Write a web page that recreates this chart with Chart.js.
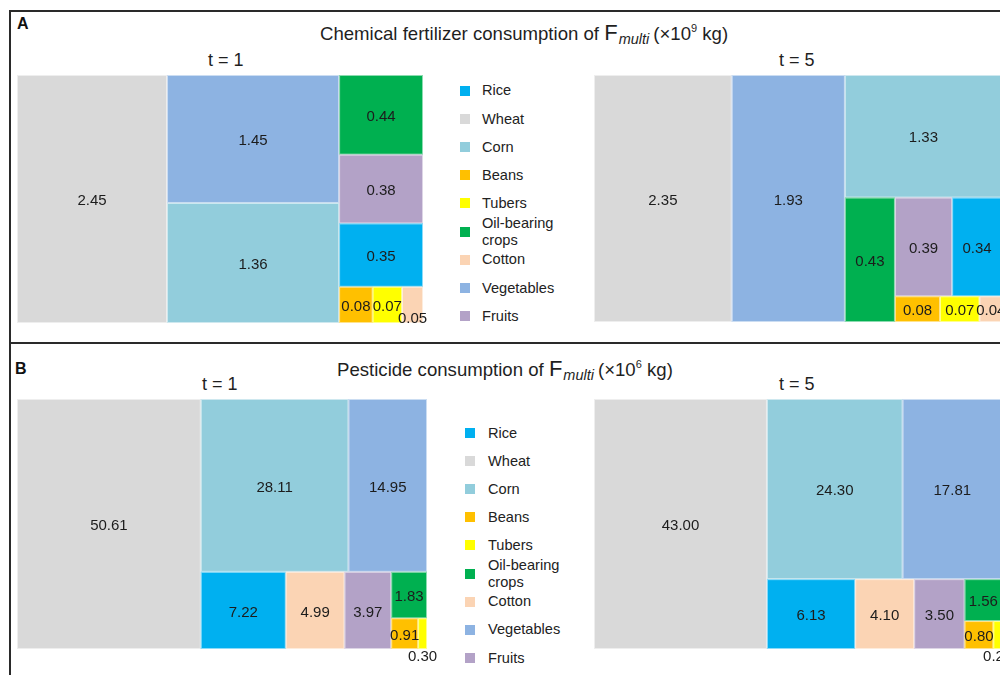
<!DOCTYPE html>
<html>
<head>
<meta charset="utf-8">
<script src="https://cdn.jsdelivr.net/npm/chart.js@4.4.1/dist/chart.umd.min.js"></script>
<style>
  html, body { margin: 0; padding: 0; background: #fff; }
  body { position: relative; width: 1000px; height: 675px; overflow: hidden;
         font-family: "Liberation Sans", Arial, sans-serif; color: #1f1f1f; }
  .abs { position: absolute; white-space: nowrap; }
  .frame-v { position: absolute; left: 9px; top: 10px; width: 2px; height: 700px; background: #2a2a2a; }
  .frame-h { position: absolute; left: 9px; width: 1000px; height: 2px; background: #2a2a2a; }
  .panel-tag { font-size: 16px; font-weight: bold; line-height: 18px; color: #111; }
  .title { font-size: 18.6px; line-height: 20px; }
  .title .bigF { font-size: 22px; }
  .title .sub { font-size: 14.5px; font-style: italic; position: relative; top: 4px; margin-left: 1px; margin-right: 4px; }
  .title .sup { font-size: 11px; position: relative; top: -8px; }
  .tlabel { font-size: 18px; line-height: 20px; }
  canvas.tm { position: absolute; }
  .legend-row { position: absolute; height: 24px; display: flex; align-items: center; }
  .legend-row .sw { width: 10px; height: 10px; flex: none; }
  .legend-row .tx { font-size: 14.6px; line-height: 16.5px; width: 84px; white-space: normal; color: #222; }
</style>
</head>
<body>

<div class="frame-v"></div>
<div class="frame-h" style="top:10px"></div>
<div class="frame-h" style="top:342px"></div>

<div class="abs panel-tag" style="left:17px; top:15px">A</div>
<div class="abs title" style="left:320px; top:23px">Chemical fertilizer consumption of <span class="bigF">F</span><span class="sub">multi</span>(×10<span class="sup">9</span> kg)</div>
<div class="abs tlabel" style="left:208px; top:50px">t = 1</div>
<div class="abs tlabel" style="left:779px; top:50px">t = 5</div>

<div class="abs panel-tag" style="left:15px; top:360px">B</div>
<div class="abs title" style="left:337px; top:359px">Pesticide consumption of <span class="bigF">F</span><span class="sub">multi</span>(×10<span class="sup">6</span> kg)</div>
<div class="abs tlabel" style="left:202px; top:374px">t = 1</div>
<div class="abs tlabel" style="left:779px; top:374px">t = 5</div>

<canvas id="fertT1" class="tm"></canvas>
<canvas id="fertT5" class="tm"></canvas>
<canvas id="pestT1" class="tm"></canvas>
<canvas id="pestT5" class="tm"></canvas>

<div id="legendA"></div>
<div id="legendB"></div>

<script>
// Crop categories, in legend order
const crops = ['Rice', 'Wheat', 'Corn', 'Beans', 'Tubers', 'Oil-bearing crops', 'Cotton', 'Vegetables', 'Fruits'];
const cropColors = ['#00b0f0', '#d9d9d9', '#92cddc', '#ffc000', '#ffff00', '#00b050', '#fbd4b4', '#8db3e2', '#b3a2c7'];

// Chemical fertilizer consumption of F_multi (×10^9 kg), per crop
const fertilizerT1 = [0.35, 2.45, 1.36, 0.08, 0.07, 0.44, 0.05, 1.45, 0.38];
const fertilizerT5 = [0.34, 2.35, 1.33, 0.08, 0.07, 0.43, 0.04, 1.93, 0.39];

// Pesticide consumption of F_multi (×10^6 kg), per crop
const pesticideT1 = [7.22, 50.61, 28.11, 0.91, 0.30, 1.83, 4.99, 14.95, 3.97];
const pesticideT5 = [6.13, 43.00, 24.30, 0.80, 0.24, 1.56, 4.10, 17.81, 3.50];

// Preferred width/height ratio of a cell when building strips
const targetAspect = 0.76;

// Squarified strip layout: biggest values first, each strip runs along the
// shorter side of the space that is left; a value joins the current strip as
// long as the worst cell shape in it does not get worse.
function squarifyLayout(values, width, height) {
  const order = values.map((v, i) => i).sort((a, b) => values[b] - values[a]);
  const total = values.reduce((s, v) => s + v, 0);
  const unit = width * height / total;
  const rects = new Array(values.length);
  let x = 0, y = 0, w = width, h = height, k = 0;

  const stripSum = row => row.reduce((s, i) => s + values[i], 0);
  const score = (row, vertical, side) => {
    const thick = stripSum(row) * unit / side;
    let worst = 0;
    for (const i of row) {
      const len = values[i] * unit / thick;
      const ratio = vertical ? thick / len : len / thick;
      worst = Math.max(worst, Math.abs(Math.log(ratio / targetAspect)));
    }
    return worst;
  };

  while (k < order.length) {
    const vertical = w >= h;
    const side = vertical ? h : w;
    const row = [order[k++]];
    let best = score(row, vertical, side);
    while (k < order.length) {
      const next = score(row.concat(order[k]), vertical, side);
      if (next > best) break;
      row.push(order[k++]);
      best = next;
    }
    const thick = stripSum(row) * unit / side;
    let offset = 0;
    for (const i of row) {
      const len = values[i] * unit / thick;
      rects[i] = vertical
        ? { x0: x, x1: x + thick, y0: y + offset, y1: y + offset + len }
        : { x0: x + offset, x1: x + offset + len, y0: y, y1: y + thick };
      offset += len;
    }
    if (vertical) { x += thick; w -= thick; } else { y += thick; h -= thick; }
  }
  // express the cells in the 0..1 units of the chart's x and y scales
  return {
    order,
    cells: rects.map(r => ({ x0: r.x0 / width, x1: r.x1 / width, y0: r.y0 / height, y1: r.y1 / height }))
  };
}

const LABEL_FONT = '15px "Liberation Sans", Arial, sans-serif';
const LABEL_H = 12;

const treemapPlugin = {
  id: 'treemapCells',
  afterDatasetsDraw(chart, args, opts) {
    const { ctx, chartArea, scales } = chart;
    const values = opts.values;
    const { order, cells } = squarifyLayout(values, chartArea.width, chartArea.height);
    const px = c => ({
      left: scales.x.getPixelForValue(c.x0), right: scales.x.getPixelForValue(c.x1),
      top: scales.y.getPixelForValue(c.y0), bottom: scales.y.getPixelForValue(c.y1)
    });

    ctx.save();
    for (const i of order) {
      const b = px(cells[i]);
      ctx.fillStyle = opts.colors[i];
      ctx.fillRect(b.left, b.top, b.right - b.left, b.bottom - b.top);
      ctx.strokeStyle = 'rgba(255,255,255,0.55)';
      ctx.lineWidth = 1;
      ctx.strokeRect(b.left + 0.5, b.top + 0.5, b.right - b.left - 1, b.bottom - b.top - 1);
    }

    // value labels, centred; a label that would collide with an earlier one moves down
    ctx.font = LABEL_FONT;
    ctx.fillStyle = '#1c1c1c';
    ctx.textAlign = 'center';
    ctx.textBaseline = 'middle';
    const placed = [];
    for (const i of order) {
      const b = px(cells[i]);
      const text = values[i].toFixed(2);
      const tw = ctx.measureText(text).width;
      const cx = (b.left + b.right) / 2;
      let top = (b.top + b.bottom) / 2 + 2 - LABEL_H / 2;
      const box = { x0: cx - tw / 2, x1: cx + tw / 2 };
      const hit = placed.find(p => box.x0 < p.x1 - 0.5 && box.x1 > p.x0 + 0.5 && top < p.y1 && top + LABEL_H > p.y0);
      if (hit) {
        top = (b.right - b.left) < tw / 2 ? b.bottom + 2 : hit.y1;
      }
      box.y0 = top; box.y1 = top + LABEL_H;
      placed.push(box);
      ctx.fillText(text, cx, top + LABEL_H / 2);
    }
    ctx.restore();
  }
};

const PAD = { left: 12, right: 16, top: 4, bottom: 26 };

function makeTreemap(id, values, area) {
  const canvas = document.getElementById(id);
  canvas.width = area.w + PAD.left + PAD.right;
  canvas.height = area.h + PAD.top + PAD.bottom;
  canvas.style.left = (area.x - PAD.left) + 'px';
  canvas.style.top = (area.y - PAD.top) + 'px';
  return new Chart(canvas, {
    type: 'scatter',
    data: { datasets: [{ data: [] }] },
    options: {
      responsive: false,
      animation: false,
      layout: { padding: PAD },
      scales: {
        x: { type: 'linear', min: 0, max: 1, display: false },
        y: { type: 'linear', min: 0, max: 1, reverse: true, display: false }
      },
      plugins: {
        legend: { display: false },
        tooltip: { enabled: false },
        treemapCells: { values: values, colors: cropColors }
      }
    },
    plugins: [treemapPlugin]
  });
}

makeTreemap('fertT1', fertilizerT1, { x: 17, y: 75, w: 406, h: 248 });
makeTreemap('fertT5', fertilizerT5, { x: 594, y: 75, w: 408, h: 247 });
makeTreemap('pestT1', pesticideT1, { x: 17, y: 399, w: 410, h: 250 });
makeTreemap('pestT5', pesticideT5, { x: 594, y: 399, w: 408, h: 250 });

// legends between the two treemaps of each panel
function makeLegend(id, swatchX, textX, firstCenter, step) {
  const host = document.getElementById(id);
  crops.forEach((name, i) => {
    const row = document.createElement('div');
    row.className = 'legend-row';
    row.style.left = swatchX + 'px';
    row.style.top = (firstCenter + i * step - 12) + 'px';
    const sw = document.createElement('div');
    sw.className = 'sw';
    sw.style.background = cropColors[i];
    sw.style.marginRight = (textX - swatchX - 10) + 'px';
    const tx = document.createElement('div');
    tx.className = 'tx';
    tx.textContent = name;
    row.appendChild(sw);
    row.appendChild(tx);
    host.appendChild(row);
  });
}
makeLegend('legendA', 460, 482, 90.7, 28.16);
makeLegend('legendB', 465, 488, 433, 28.1);
</script>
</body>
</html>
